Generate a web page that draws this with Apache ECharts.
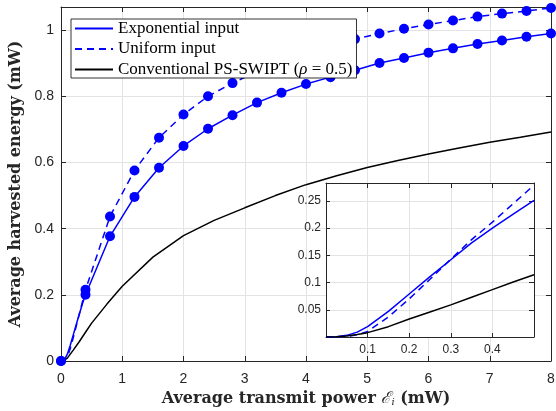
<!DOCTYPE html>
<html>
<head>
<meta charset="utf-8">
<script src="https://cdn.jsdelivr.net/npm/echarts@6/dist/echarts.min.js"></script>
<style>
html,body{margin:0;padding:0;background:#fff;}
#c{width:556px;height:411px;}
</style>
</head>
<body>
<div id="c"></div>
<script>
// ---- data ----
const markerX = [0, 0.4, 0.8, 1.2, 1.6, 2.0, 2.4, 2.8, 3.2, 3.6, 4.0, 4.4, 4.8, 5.2, 5.6, 6.0, 6.4, 6.8, 7.2, 7.6, 8.0];
const expMarkers = [0, 0.200, 0.377, 0.496, 0.584, 0.650, 0.702, 0.743, 0.781, 0.811, 0.837, 0.858, 0.879, 0.901, 0.916, 0.932, 0.945, 0.958, 0.969, 0.980, 0.990];
const uniMarkers = [0, 0.215, 0.437, 0.576, 0.675, 0.745, 0.800, 0.840, 0.875, 0.905, 0.930, 0.953, 0.973, 0.990, 1.004, 1.017, 1.029, 1.041, 1.050, 1.058, 1.067];

const convX = [0, 0.1, 0.2, 0.3, 0.4, 0.5, 0.75, 1, 1.5, 2, 2.5, 3, 3.5, 4, 4.5, 5, 5.5, 6, 6.5, 7, 7.5, 8];
const convY = [0, 0.008, 0.033, 0.059, 0.087, 0.1145, 0.172, 0.226, 0.314, 0.379, 0.425, 0.463, 0.500, 0.533, 0.560, 0.585, 0.606, 0.626, 0.644, 0.661, 0.676, 0.692];

const insetX = [0, 0.025, 0.05, 0.075, 0.1, 0.15, 0.2, 0.25, 0.3, 0.35, 0.4, 0.45, 0.5];
const insetExp = [0, 0.0005, 0.003, 0.009, 0.019, 0.047, 0.079, 0.111, 0.142, 0.173, 0.200, 0.226, 0.251];
const insetUni = [0, 0.0001, 0.001, 0.004, 0.010, 0.037, 0.070, 0.106, 0.143, 0.179, 0.211, 0.245, 0.279];
const insetConv = [0, 0.0004, 0.002, 0.0045, 0.008, 0.019, 0.033, 0.046, 0.059, 0.073, 0.087, 0.101, 0.1145];

const seriesNames = ['Exponential input', 'Uniform input', 'Conventional PS-SWIPT (ρ = 0.5)'];
const mainXTicks = [0, 1, 2, 3, 4, 5, 6, 7, 8];
const mainYTicks = [0, 0.2, 0.4, 0.6, 0.8, 1];
const insetXTicks = [0.1, 0.2, 0.3, 0.4];
const insetYTicks = [0.05, 0.1, 0.15, 0.2, 0.25];

// ---- helpers ----
const zip = (xs, ys) => xs.map((x, i) => [x, ys[i]]);
const pick = (xs, ys, lo, hi) => zip(xs, ys).filter(p => p[0] >= lo && p[0] <= hi);
const expLine = pick(insetX, insetExp, 0.01, 0.35).concat(zip(markerX, expMarkers)).sort((a, b) => a[0] - b[0]);
const uniLine = pick(insetX, insetUni, 0.01, 0.35).concat(zip(markerX, uniMarkers)).sort((a, b) => a[0] - b[0]);

const AX = '#262626';
const GRIDC = '#e3e3e3';
const TITLEFONT = 'DejaVu Serif';
const tickFmt = (ticks) => (v) => {
  const hit = ticks.find(t => Math.abs(t - v) < 1e-6);
  return hit === undefined ? '' : String(hit);
};
const boxAxis = (gridIndex, pos, min, max, interval, z) => ({
  type: 'value', gridIndex, position: pos, min, max, interval, z,
  axisLine: {show: true, onZero: false, lineStyle: {color: AX, width: 1}},
  axisTick: {show: true, inside: true, length: 5, lineStyle: {color: AX}},
  axisLabel: {show: false},
  splitLine: {show: false}
});

const chart = echarts.init(document.getElementById('c'), null, {renderer: 'canvas'});
const option = {
  animation: false,
  backgroundColor: '#fff',
  grid: [
    {left: 61, right: 5, top: 7, bottom: 50, containLabel: false, outerBoundsMode: 'none'},
    {left: 326, top: 183, width: 208, height: 154, show: true, backgroundColor: '#fff', borderWidth: 0, z: 5, containLabel: false, outerBoundsMode: 'none'}
  ],
  legend: {
    orient: 'vertical', left: 71, top: 19,
    data: seriesNames,
    itemWidth: 38, itemHeight: 14, itemGap: 3.5,
    itemStyle: {color: 'rgba(0,0,0,0)', borderColor: 'rgba(0,0,0,0)', borderWidth: 0, opacity: 0},
    backgroundColor: '#fff', borderColor: '#000', borderWidth: 0.8, borderRadius: 0,
    padding: [1, 4, 0, 3],
    textStyle: {fontFamily: 'Liberation Serif', fontSize: 17, color: '#000'},
    formatter: (n) => n.indexOf('ρ') >= 0 ? '{n|Conventional PS-SWIPT (}{i|ρ}{n| = 0.5)}' : '{n|' + n + '}',
    z: 10
  },
  xAxis: [
    {
      type: 'value', gridIndex: 0, position: 'bottom', min: 0, max: 8, interval: 1,
      name: '{b|Average transmit power }{e|ℰ}{s|i}{b| (mW)}',
      nameLocation: 'middle', nameGap: 25,
      nameTextStyle: {
        rich: {
          b: {fontFamily: TITLEFONT, fontWeight: 'bold', fontSize: 16, color: AX},
          e: {fontFamily: 'DejaVu Serif', fontStyle: 'italic', fontSize: 16, color: AX},
          s: {fontFamily: 'DejaVu Serif', fontStyle: 'italic', fontSize: 10, color: AX, padding: [8, 0, 0, 0]}
        }
      },
      axisLine: {show: true, onZero: false, lineStyle: {color: AX, width: 1}},
      axisTick: {show: true, inside: true, length: 5, lineStyle: {color: AX}},
      axisLabel: {color: AX, fontFamily: 'Liberation Sans', fontSize: 14, margin: 11, formatter: tickFmt(mainXTicks)},
      splitLine: {show: true, lineStyle: {color: GRIDC, width: 1}}
    },
    boxAxis(0, 'top', 0, 8, 1, 0),
    {
      type: 'value', gridIndex: 1, position: 'bottom', min: 0, max: 0.5, interval: 0.1, z: 6,
      axisLine: {show: true, onZero: false, lineStyle: {color: AX, width: 1}},
      axisTick: {show: true, inside: true, length: 4, lineStyle: {color: AX}},
      axisLabel: {color: AX, fontFamily: 'Liberation Sans', fontSize: 12, margin: 7, formatter: tickFmt(insetXTicks), showMinLabel: false, showMaxLabel: false},
      splitLine: {show: true, lineStyle: {color: GRIDC, width: 1}}
    },
    boxAxis(1, 'top', 0, 0.5, 0.1, 6)
  ],
  yAxis: [
    {
      type: 'value', gridIndex: 0, position: 'left', min: 0, max: 1.07, interval: 0.2,
      name: 'Average harvested energy (mW)',
      nameLocation: 'middle', nameGap: 31,
      nameTextStyle: {fontFamily: TITLEFONT, fontWeight: 'bold', fontSize: 16, color: AX},
      axisLine: {show: true, onZero: false, lineStyle: {color: AX, width: 1}},
      axisTick: {show: true, inside: true, length: 5, lineStyle: {color: AX}},
      axisLabel: {color: AX, fontFamily: 'Liberation Sans', fontSize: 14, margin: 7, formatter: tickFmt(mainYTicks)},
      splitLine: {show: true, lineStyle: {color: GRIDC, width: 1}}
    },
    boxAxis(0, 'right', 0, 1.07, 0.2, 0),
    {
      type: 'value', gridIndex: 1, position: 'left', min: 0, max: 0.283, interval: 0.05, z: 6,
      axisLine: {show: true, onZero: false, lineStyle: {color: AX, width: 1}},
      axisTick: {show: true, inside: true, length: 4, lineStyle: {color: AX}},
      axisLabel: {color: AX, fontFamily: 'Liberation Sans', fontSize: 12, margin: 5, formatter: tickFmt(insetYTicks), showMaxLabel: false},
      splitLine: {show: true, lineStyle: {color: GRIDC, width: 1}}
    },
    boxAxis(1, 'right', 0, 0.283, 0.05, 6)
  ],
  series: [
    {
      name: seriesNames[0], type: 'line', xAxisIndex: 0, yAxisIndex: 0,
      data: expLine, showSymbol: false, symbol: 'none',
      lineStyle: {color: '#0000ff', width: 1.5, type: 'solid'}, itemStyle: {color: '#0000ff'}, z: 3
    },
    {
      name: seriesNames[1], type: 'line', xAxisIndex: 0, yAxisIndex: 0,
      data: uniLine, showSymbol: false, symbol: 'none',
      lineStyle: {color: '#0000ff', width: 1.5, type: [7, 5]}, itemStyle: {color: '#0000ff'}, z: 3
    },
    {
      name: seriesNames[2], type: 'line', xAxisIndex: 0, yAxisIndex: 0,
      data: zip(convX, convY), showSymbol: false, symbol: 'none',
      lineStyle: {color: '#000000', width: 1.5}, itemStyle: {color: '#000'}, z: 3
    },
    {
      type: 'scatter', xAxisIndex: 0, yAxisIndex: 0, data: zip(markerX, expMarkers),
      symbol: 'circle', symbolSize: 10, itemStyle: {color: '#0000ff', opacity: 1}, z: 4
    },
    {
      type: 'scatter', xAxisIndex: 0, yAxisIndex: 0, data: zip(markerX, uniMarkers),
      symbol: 'circle', symbolSize: 10, itemStyle: {color: '#0000ff', opacity: 1}, z: 4
    },
    {
      type: 'line', xAxisIndex: 2, yAxisIndex: 2, data: zip(insetX, insetExp),
      showSymbol: false, symbol: 'none',
      lineStyle: {color: '#0000ff', width: 1.5}, z: 7
    },
    {
      type: 'line', xAxisIndex: 2, yAxisIndex: 2, data: zip(insetX, insetUni),
      showSymbol: false, symbol: 'none',
      lineStyle: {color: '#0000ff', width: 1.5, type: [7, 5]}, z: 7
    },
    {
      type: 'line', xAxisIndex: 2, yAxisIndex: 2, data: zip(insetX, insetConv),
      showSymbol: false, symbol: 'none',
      lineStyle: {color: '#000000', width: 1.5}, z: 7
    }
  ]
};
option.legend.textStyle.rich = {
  n: {fontFamily: 'Liberation Serif', fontSize: 17, color: '#000'},
  i: {fontFamily: 'Liberation Serif', fontStyle: 'italic', fontSize: 17, color: '#000'}
};
chart.setOption(option);
</script>
</body>
</html>
